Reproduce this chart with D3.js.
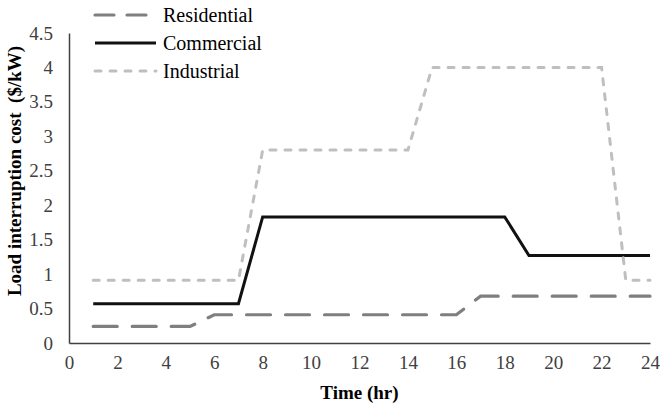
<!DOCTYPE html>
<html><head><meta charset="utf-8">
<script src="https://cdn.jsdelivr.net/npm/d3@7"></script>
<style>body{margin:0;background:#fff}svg{display:block}</style>
</head><body><svg id="c" width="660" height="409"></svg>
<script>
const hours = d3.range(1, 25);
const residential = [0.24,0.24,0.24,0.24,0.24,0.41,0.41,0.41,0.41,0.41,0.41,0.41,0.41,0.41,0.41,0.41,0.68,0.68,0.68,0.68,0.68,0.68,0.68,0.68];
const commercial = [0.57,0.57,0.57,0.57,0.57,0.57,0.57,1.83,1.83,1.83,1.83,1.83,1.83,1.83,1.83,1.83,1.83,1.83,1.27,1.27,1.27,1.27,1.27,1.27];
const industrial = [0.91,0.91,0.91,0.91,0.91,0.91,0.91,2.8,2.8,2.8,2.8,2.8,2.8,2.8,4.0,4.0,4.0,4.0,4.0,4.0,4.0,4.0,0.91,0.91];
const seriesNames = ["Residential","Commercial","Industrial"];
const xTicks = d3.range(0, 25, 2);
const yTicks = [0,0.5,1,1.5,2,2.5,3,3.5,4,4.5];

const svg = d3.select("#c");
const L = 69, R = 650, T = 33, B = 343;
const x = d3.scaleLinear().domain([0,24]).range([L,R]);
const y = d3.scaleLinear().domain([0,4.5]).range([B,T]);
const font = "'Liberation Serif','Times New Roman',Times,serif";

const styles = [
  {color:"#7f7f7f", width:3.2, dash:"24,15"},
  {color:"#111111", width:3, dash:null},
  {color:"#bfbfbf", width:3, dash:"6,9"}
];
const data = [residential, commercial, industrial];

// axes
const xAxis = svg.append("g").attr("transform",`translate(0,${B})`)
  .call(d3.axisBottom(x).tickValues(xTicks).tickSize(0).tickPadding(13).tickFormat(d3.format("d")));
const yAxis = svg.append("g").attr("transform",`translate(${L},0)`)
  .call(d3.axisLeft(y).tickValues(yTicks).tickSize(0).tickPadding(16).tickFormat(d=>String(d)));
[xAxis,yAxis].forEach(a=>{
  a.attr("font-family",font).attr("font-size",19);
  a.select(".domain").attr("stroke","#404040").attr("stroke-width",1.5);
  a.selectAll("text").attr("font-family",font).attr("font-size",19).attr("fill","#404040");
});

// lines
const line = d3.line().x((d,i)=>x(hours[i])).y(d=>y(d));
data.forEach((vals,k)=>{
  const s = styles[k];
  svg.append("path").datum(vals).attr("d",line)
    .attr("fill","none").attr("stroke",s.color).attr("stroke-width",s.width)
    .attr("stroke-linecap", s.dash ? "round" : "butt")
    .attr("stroke-dasharray", s.dash);
});

// titles
svg.append("text").attr("x",(L+R)/2).attr("y",399).attr("text-anchor","middle")
  .attr("font-family",font).attr("font-size",19).attr("font-weight","bold").attr("fill","#000")
  .text("Time (hr)");
svg.append("text").attr("transform","translate(21,171) rotate(-90)").attr("text-anchor","middle")
  .attr("font-family",font).attr("font-size",19).attr("font-weight","bold").attr("fill","#000")
  .attr("xml:space","preserve").style("white-space","pre")
  .text("Load interruption cost  ($/kW)");

// legend
const ly = [15,43,71];
seriesNames.forEach((n,k)=>{
  const s = styles[k];
  svg.append("line").attr("x1",95).attr("x2",156).attr("y1",ly[k]).attr("y2",ly[k])
    .attr("stroke",s.color).attr("stroke-width",s.width)
    .attr("stroke-linecap", s.dash ? "round" : "butt")
    .attr("stroke-dasharray", k===0 ? "19,13" : s.dash);
  svg.append("text").attr("x",163).attr("y",ly[k]+6.5)
    .attr("font-family",font).attr("font-size",20).attr("fill","#000").text(n);
});
</script></body></html>
